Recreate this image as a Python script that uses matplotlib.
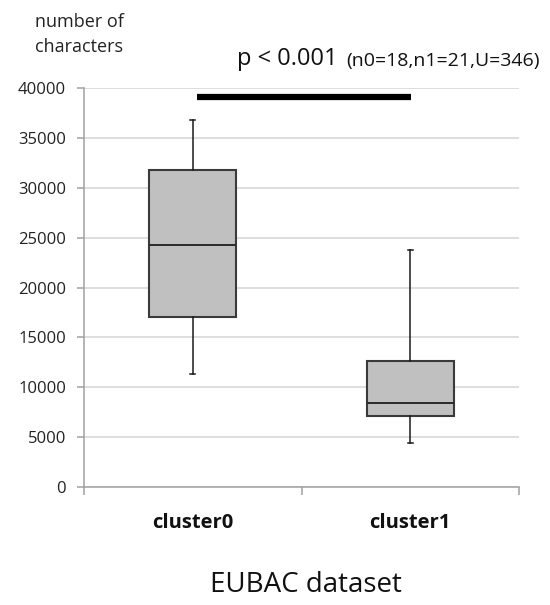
import matplotlib
matplotlib.use("Agg")
from matplotlib import pyplot as plt

# data
groups = ["cluster0", "cluster1"]
whisker_low = [11300, 4400]
q1 = [17050, 7100]
median = [24250, 8400]
q3 = [31800, 12600]
whisker_high = [36750, 23800]

y_ticks = [0, 5000, 10000, 15000, 20000, 25000, 30000, 35000, 40000]
sig_level = 39100
sig_span = [0.02, 1.005]
p_text = "p < 0.001"
test_text = "(n0=18,n1=21,U=346)"
y_label = ["number of", "characters"]
x_label = "EUBAC dataset"

plt.rcParams['font.family'] = ['Open Sans', 'DejaVu Sans']

fig = plt.figure(figsize=(5.5, 6.05), dpi=100)
ax = fig.add_axes([84/550, 1-487/605, 435/550, 399/605])

stats = []
for i, g in enumerate(groups):
    stats.append({'label': g, 'whislo': whisker_low[i], 'q1': q1[i], 'med': median[i],
                  'q3': q3[i], 'whishi': whisker_high[i], 'fliers': []})

pos = list(range(len(groups)))
ax.bxp(stats, positions=pos, widths=0.4, capwidths=0.025, patch_artist=True,
       showfliers=False,
       boxprops=dict(facecolor='#c0c0c0', edgecolor='#3a3a3a', lw=1.5),
       medianprops=dict(color='#2a2a2a', lw=1.4),
       whiskerprops=dict(color='#1a1a1a', lw=1.1),
       capprops=dict(color='#1a1a1a', lw=1.1), zorder=3)

ax.set_xlim(-0.5, 1.5)
ax.set_ylim(0, 40000)
ax.set_yticks(y_ticks)
ax.set_yticklabels([str(v) for v in y_ticks], fontsize=12, color='#222222')
ax.yaxis.grid(True, color='#d4d4d4', lw=1.1, zorder=0)
ax.set_axisbelow(True)

# category boundaries as ticks, labels in the middle
ax.set_xticks([-0.5, 0.5, 1.5])
ax.set_xticklabels([])
ax.set_xticks(pos, minor=True)
ax.set_xticklabels(groups, minor=True, fontsize=14.5, fontweight='bold', color='#111111')
ax.tick_params(axis='x', which='minor', length=0, pad=19)
ax.tick_params(axis='x', which='major', length=6, color='#a0a0a0', width=1.1)
ax.tick_params(axis='y', length=5, color='#a0a0a0', width=1.1, pad=8)

for s in ['top', 'right']:
    ax.spines[s].set_visible(False)
for s in ['left', 'bottom']:
    ax.spines[s].set_color('#a0a0a0')
    ax.spines[s].set_linewidth(1.1)

# significance bar
ax.plot(sig_span, [sig_level, sig_level], color='black', lw=4.5, solid_capstyle='butt',
        clip_on=False, zorder=4)

fig.text(35/550, 1-22/605, y_label[0], fontsize=13, color='#222222', va='center', ha='left')
fig.text(35/550, 1-47/605, y_label[1], fontsize=13, color='#222222', va='center', ha='left')
fig.text(237/550, 1-59/605, p_text, fontsize=17, color='#111111', va='center', ha='left')
fig.text(346/550, 1-61/605, test_text, fontsize=14, color='#111111', va='center', ha='left')
fig.text(306/550, 1-585/605, x_label, fontsize=20, color='#111111', va='center', ha='center')

fig.savefig("out.png", dpi=100)
